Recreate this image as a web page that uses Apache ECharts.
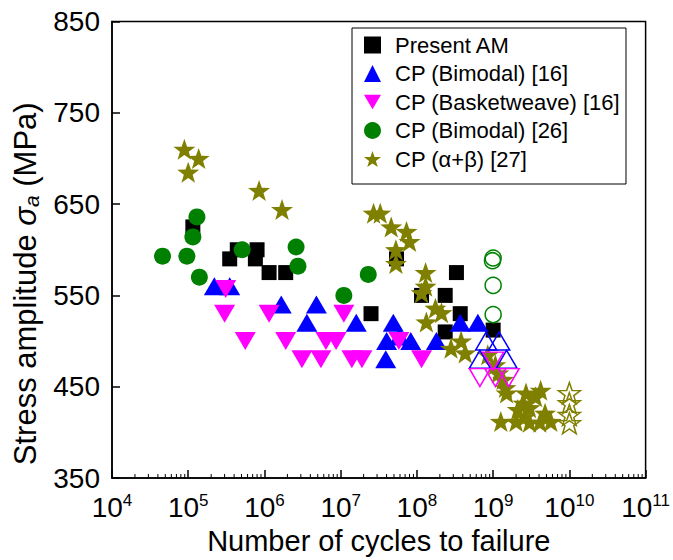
<!DOCTYPE html>
<html>
<head>
<meta charset="utf-8">
<script src="https://cdn.jsdelivr.net/npm/echarts@6.0.0/dist/echarts.min.js"></script>
<style>
  html, body { margin: 0; padding: 0; background: #fff; }
  #chart { width: 673px; height: 560px; }
</style>
</head>
<body>
<div id="chart"></div>
<script>
// Present AM (filled squares)
const amCycles = [1.15e5, 3.5e5, 4.4e5, 8.0e5, 7.6e5, 1.15e6, 1.9e6, 5.4e7, 2.5e7, 1.15e8, 2.35e8, 3.3e8, 3.7e8, 2.35e8, 1.0e9];
const amStress = [625, 590, 600, 600, 590, 575, 575, 590, 530, 550, 550, 575, 530, 510, 512];

// CP (Bimodal) [16]
const bimodal16Cycles = [2.2e5, 3.5e5, 1.66e6, 4.8e6, 3.6e6, 1.6e7, 4.9e7, 4.0e7, 5.9e7, 8.3e7, 3.9e7, 1.8e8, 3.7e8, 6.3e8];
const bimodal16Stress = [560, 560, 540, 540, 520, 520, 520, 500, 505, 500, 480, 500, 520, 520];
const bimodal16RunoutCycles = [8.1e8, 1.2e9, 6.7e8, 1.5e9];
const bimodal16RunoutStress = [500, 500, 480, 480];

// CP (Basketweave) [16]
const basketCycles = [3.1e5, 3.0e5, 1.15e6, 1.1e7, 5.6e5, 1.9e6, 6.4e6, 8.7e6, 3.1e6, 5.5e6, 1.4e7, 1.9e7, 5.8e7, 1.15e8];
const basketStress = [557, 530, 530, 530, 500, 500, 500, 500, 480, 480, 480, 480, 500, 480];
const basketRunoutCycles = [6.7e8, 1.07e9, 1.6e9, 1.0e9];
const basketRunoutStress = [460, 460, 460, 478];

// CP (Bimodal) [26]
const bimodal26Cycles = [4.6e4, 9.6e4, 1.3e5, 1.15e5, 1.4e5, 5.1e5, 2.6e6, 2.75e6, 1.1e7, 2.3e7];
const bimodal26Stress = [593, 593, 636, 614, 570, 600, 603, 582, 550, 573];
const bimodal26RunoutCycles = [1e9, 0.98e9, 1e9, 1e9];
const bimodal26RunoutStress = [591, 588, 561, 529];

// CP (α+β) [27]
const abCycles = [8.9e4, 1.37e5, 1.0e5, 8.5e5, 1.7e6, 2.7e7, 3.3e7, 4.6e7, 7.3e7, 8.0e7,
  5.3e7, 5.3e7, 1.3e8, 1.3e8, 1.15e8, 1.75e8, 2.1e8, 1.33e8, 2.8e8, 3.8e8,
  4.3e8, 8.5e8, 1.07e9, 1.17e9, 1.35e9, 1.45e9, 1.5e9, 2.7e9, 4.2e9, 3.6e9,
  2.5e9, 2.1e9, 3.0e9, 1.26e9, 2.0e9, 3.0e9, 4.1e9, 5.7e9, 4.8e9, 2.6e9];
const abStress = [710, 700, 685, 665, 644, 640, 640, 625, 620, 609,
  600, 585, 575, 560, 553, 536, 531, 521, 492, 500,
  487, 485, 474, 465, 458, 449, 443, 443, 446, 439,
  432, 425, 427, 412, 412, 411, 411, 412, 421, 417];
const abRunoutCycles = [1e10, 1e10, 1e10, 1e10];
const abRunoutStress = [443, 432, 419, 410];

// axis ticks
const yTicks = [350, 450, 550, 650, 750, 850];
const decades = [4, 5, 6, 7, 8, 9, 10];
const minorTickValues = [];
decades.forEach((d) => {
  for (let m = 2; m <= 9; m++) minorTickValues.push([m * Math.pow(10, d), yTicks[0]]);
});

const seriesNames = [
  "Present AM",
  "CP (Bimodal) [16]",
  "CP (Basketweave) [16]",
  "CP (Bimodal) [26]",
  "CP (α+β) [27]",
];

const zip = (xs, ys) => xs.map((x, i) => [x, ys[i]]);

const starPath = "path://M50,0L61.76,33.82L97.55,34.55L69.02,56.18L79.39,90.45L50,70L20.61,90.45L30.98,56.18L2.45,34.55L38.24,33.82Z";
const downTriPath = "path://M0,0L20,0L10,17Z";
const textFont = '"Liberation Sans", Arial, sans-serif';

const filled = (c) => ({ color: c, opacity: 1 });
const hollow = (c) => ({ color: "rgba(0,0,0,0)", borderColor: c, borderWidth: 1.5, opacity: 1 });

const mChart = echarts.init(document.getElementById("chart"), null, { renderer: "svg" });

const option = {
  backgroundColor: "#fff",
  animation: false,
  grid: {
    left: 112,
    right: 25,
    top: 21.5,
    bottom: 81.5,
    show: true,
    borderColor: "#000",
    borderWidth: 1.5,
  },
  legend: {
    orient: "vertical",
    left: 352,
    top: 28,
    padding: [6, 6, 14, 12],
    borderColor: "#000",
    borderWidth: 1,
    itemGap: 6.5,
    itemWidth: 17,
    itemHeight: 17,
    textStyle: {
      fontFamily: textFont,
      fontSize: 22,
      lineHeight: 22,
      color: "#000",
      padding: [0, 0, 0, 9],
    },
    data: [
      { name: seriesNames[0], icon: "rect" },
      { name: seriesNames[1], icon: "triangle" },
      { name: seriesNames[2], icon: downTriPath },
      { name: seriesNames[3], icon: "circle" },
      { name: seriesNames[4], icon: starPath },
    ],
  },
  xAxis: {
    type: "log",
    logBase: 10,
    min: 1e4,
    max: 1e11,
    splitNumber: 7,
    name: "Number of cycles to failure",
    nameLocation: "middle",
    nameGap: 48,
    nameTextStyle: { fontFamily: textFont, fontSize: 29, color: "#000" },
    axisLine: { lineStyle: { color: "#000", width: 1.5 } },
    axisTick: { inside: true, length: 8, lineStyle: { color: "#000", width: 1.5 } },
    splitLine: { show: false },
    axisLabel: {
      margin: 14,
      formatter: (v) => "{b|10}{s|" + Math.round(Math.log10(v)) + "}",
      rich: {
        b: { fontFamily: textFont, fontSize: 28, color: "#000", lineHeight: 30 },
        s: { fontFamily: textFont, fontSize: 17, color: "#000", lineHeight: 12, verticalAlign: "top" },
      },
    },
  },
  yAxis: {
    type: "value",
    min: 350,
    max: 850,
    interval: 100,
    name: "{n|Stress amplitude }{i|σ}{s|a}{n| (MPa)}",
    nameLocation: "middle",
    nameGap: 70,
    nameTextStyle: {
      padding: [0, 68, 0, 0],
      rich: {
        n: { fontFamily: textFont, fontSize: 31, color: "#000", lineHeight: 34 },
        i: { fontFamily: textFont, fontSize: 31, fontStyle: "italic", color: "#000", lineHeight: 34 },
        s: { fontFamily: textFont, fontSize: 21, fontStyle: "italic", color: "#000", lineHeight: 24, verticalAlign: "bottom" },
      },
    },
    axisLine: { show: true, lineStyle: { color: "#000", width: 1.5 } },
    axisTick: { inside: true, length: 8, lineStyle: { color: "#000", width: 1.5 } },
    splitLine: { show: false },
    axisLabel: { margin: 12, fontFamily: textFont, fontSize: 28, color: "#000" },
  },
  series: [
    {
      type: "custom",
      silent: true,
      data: minorTickValues,
      renderItem: (params, api) => {
        const p = api.coord([api.value(0), api.value(1)]);
        return {
          type: "line",
          shape: { x1: p[0], y1: p[1], x2: p[0], y2: p[1] - 4 },
          style: { stroke: "#000", lineWidth: 1 },
        };
      },
    },
    {
      name: seriesNames[0],
      type: "scatter",
      symbol: "rect",
      symbolSize: 15,
      itemStyle: filled("#000"),
      data: zip(amCycles, amStress),
    },
    {
      name: seriesNames[1],
      type: "scatter",
      symbol: "triangle",
      symbolSize: [21, 18],
      itemStyle: filled("#0000ff"),
      data: zip(bimodal16Cycles, bimodal16Stress),
    },
    {
      name: seriesNames[2],
      type: "scatter",
      symbol: downTriPath,
      symbolSize: [21, 18],
      itemStyle: filled("#ff00ff"),
      data: zip(basketCycles, basketStress),
    },
    {
      name: seriesNames[3],
      type: "scatter",
      symbol: "circle",
      symbolSize: 17,
      itemStyle: filled("#008000"),
      data: zip(bimodal26Cycles, bimodal26Stress),
    },
    {
      name: seriesNames[4],
      type: "scatter",
      symbol: starPath,
      symbolSize: [22, 21],
      itemStyle: filled("#808000"),
      data: zip(abCycles, abStress),
    },
    // run-outs (open symbols)
    {
      name: seriesNames[1] + " run-out",
      type: "scatter",
      symbol: "triangle",
      symbolSize: [21, 18],
      itemStyle: hollow("#0000ff"),
      data: zip(bimodal16RunoutCycles, bimodal16RunoutStress),
    },
    {
      name: seriesNames[2] + " run-out",
      type: "scatter",
      symbol: downTriPath,
      symbolSize: [21, 18],
      itemStyle: hollow("#ff00ff"),
      data: zip(basketRunoutCycles, basketRunoutStress),
    },
    {
      name: seriesNames[3] + " run-out",
      type: "scatter",
      symbol: "circle",
      symbolSize: 16,
      itemStyle: hollow("#008000"),
      data: zip(bimodal26RunoutCycles, bimodal26RunoutStress),
    },
    {
      name: seriesNames[4] + " run-out",
      type: "scatter",
      symbol: starPath,
      symbolSize: [22, 21],
      itemStyle: hollow("#808000"),
      data: zip(abRunoutCycles, abRunoutStress),
    },
  ],
};
mChart.setOption(option);
</script>
</body>
</html>
